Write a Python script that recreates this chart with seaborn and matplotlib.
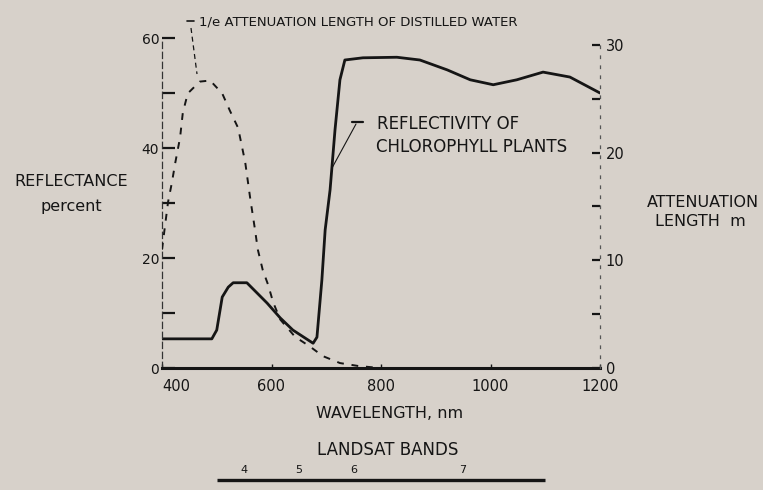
import matplotlib
matplotlib.use('Agg')
import matplotlib.pyplot as plt
import seaborn as sns
from matplotlib.lines import Line2D
from matplotlib.ticker import FixedLocator

# reflectivity of chlorophyll plants (percent, left axis)
wl_plant = [400, 491, 500, 510, 521, 530, 555, 574, 592, 616, 639, 676, 683, 692, 698,
            707, 716, 725, 734, 767, 829, 871, 921, 963, 1005, 1048, 1096, 1145, 1200]
refl_plant = [5.3, 5.3, 6.9, 12.9, 14.7, 15.5, 15.5, 13.6, 11.8, 9.1, 6.9, 4.5, 5.6, 16.0, 25.1,
              32.4, 43.3, 52.4, 56.0, 56.4, 56.5, 56.0, 54.2, 52.4, 51.5, 52.4, 53.8, 52.9, 50.0]

# 1/e attenuation length of distilled water (m, right axis)
wl_water = [400, 411, 418, 424, 433, 438, 447, 469, 488, 510, 524, 539, 552, 561, 570,
            575, 584, 594, 603, 616, 643, 670, 694, 725, 758, 798, 850]
att_water = [11.0, 15.4, 17.2, 19.0, 21.4, 23.7, 25.5, 26.6, 26.7, 25.5, 23.9, 22.3, 19.1, 15.8, 12.8,
             11.0, 9.1, 7.7, 6.1, 4.5, 2.9, 2.0, 1.1, 0.46, 0.19, 0.0, 0.0]

x_ticks = [400, 600, 800, 1000, 1200]
left_ticks = [0, 20, 40, 60]
left_minor = [10, 30, 50]
right_ticks = [0, 10, 20, 30]
right_minor = [5, 15, 25]

# Landsat MSS bands
band_labels = ['4', '5', '6', '7']
band_centers = [550, 650, 750, 950]
band_span = [500, 1100]

bg = '#d7d1ca'
ink = '#151515'

sns.set_style('ticks')
plt.rcParams['font.family'] = ['DejaVu Sans']

W, H = 763, 490
fig = plt.figure(figsize=(W / 100, H / 100), dpi=100, facecolor=bg)
ax = fig.add_axes([162 / W, 1 - 368 / H, (600 - 162) / W, (368 - 38) / H])
ax.set_facecolor(bg)
ax2 = ax.twinx()

sns.lineplot(x=wl_plant, y=refl_plant, ax=ax, color=ink, lw=2.0)
sns.lineplot(x=wl_water, y=att_water, ax=ax2, color=ink, lw=1.4, linestyle=(0, (3.5, 4)))

ax.set_xlim(400, 1200)
ax.set_ylim(0, 60)
ax2.set_ylim(0, 30.65)

ax.set_xticks(x_ticks)
ax.set_xticklabels([str(v) for v in x_ticks])
ax.set_yticks(left_ticks)
ax.yaxis.set_minor_locator(FixedLocator(left_minor))
ax2.set_yticks(right_ticks)
ax2.yaxis.set_minor_locator(FixedLocator(right_minor))

ax.tick_params(axis='x', direction='in', length=3, width=1, pad=8, labelsize=10.5, colors=ink)
ax.tick_params(axis='y', which='major', direction='in', length=9, width=1.6, pad=2, labelsize=10, colors=ink)
ax.tick_params(axis='y', which='minor', direction='in', length=9, width=1.6, colors=ink)
ax2.tick_params(axis='y', which='major', direction='in', length=6, width=1.6, pad=4, labelsize=10.5, colors=ink)
ax2.tick_params(axis='y', which='minor', direction='in', length=6, width=1.6, colors=ink)

# first wavelength label sits to the right of the corner, as in the scan
ax.xaxis.get_major_ticks()[0].label1.set_horizontalalignment('left')

for a in (ax, ax2):
    a.spines['top'].set_visible(False)
    a.set_xlabel('')
    a.set_ylabel('')
ax.spines['right'].set_visible(False)
ax2.spines['left'].set_visible(False)
ax2.spines['bottom'].set_visible(False)
ax.spines['bottom'].set_linewidth(2.2)
ax.spines['bottom'].set_color(ink)
ax.spines['left'].set_linestyle((0, (5, 3)))
ax.spines['left'].set_linewidth(0.9)
ax.spines['left'].set_color('#333333')
ax2.spines['right'].set_linestyle((0, (2, 6)))
ax2.spines['right'].set_linewidth(0.9)
ax2.spines['right'].set_color('#555555')


def fx(px):
    return px / W


def fy(py):
    return 1 - py / H


# curve labels with leader lines
fig.text(fx(199), fy(22), '1/e ATTENUATION LENGTH OF DISTILLED WATER', ha='left', va='center',
         fontsize=9.5, color=ink)
fig.add_artist(Line2D([fx(187), fx(194)], [fy(21), fy(21)], color=ink, lw=1.2))
fig.add_artist(Line2D([fx(191), fx(197)], [fy(28), fy(74)], color=ink, lw=0.9, linestyle=(0, (4, 3))))

fig.text(fx(377), fy(124), 'REFLECTIVITY OF', ha='left', va='center', fontsize=12, color=ink)
fig.text(fx(376), fy(147), 'CHLOROPHYLL PLANTS', ha='left', va='center', fontsize=12, color=ink)
fig.add_artist(Line2D([fx(352), fx(363)], [fy(122), fy(122)], color=ink, lw=1.6))
fig.add_artist(Line2D([fx(356), fx(332)], [fy(124), fy(168)], color=ink, lw=0.8))

# axis titles
fig.text(fx(71), fy(182), 'REFLECTANCE', ha='center', va='center', fontsize=11.5, color=ink)
fig.text(fx(71), fy(207), 'percent', ha='center', va='center', fontsize=11.5, color=ink)
fig.text(fx(703), fy(202), 'ATTENUATION', ha='center', va='center', fontsize=11.5, color=ink)
fig.text(fx(700), fy(222), 'LENGTH  m', ha='center', va='center', fontsize=11.5, color=ink)
fig.text(fx(390), fy(413), 'WAVELENGTH, nm', ha='center', va='center', fontsize=11.5, color=ink)

# Landsat bands
fig.text(fx(388), fy(450), 'LANDSAT BANDS', ha='center', va='center', fontsize=12, color=ink)
trans = ax.get_xaxis_transform()
for lab, c in zip(band_labels, band_centers):
    ax.text(c, (368 - 470) / 330, lab, transform=trans, ha='center', va='center',
            fontsize=8, color=ink, clip_on=False)
ax.plot(band_span, [(368 - 480) / 330] * 2, transform=trans, color=ink, lw=2.4,
        clip_on=False, solid_capstyle='butt')

fig.savefig('out.png', dpi=100, facecolor=bg)
